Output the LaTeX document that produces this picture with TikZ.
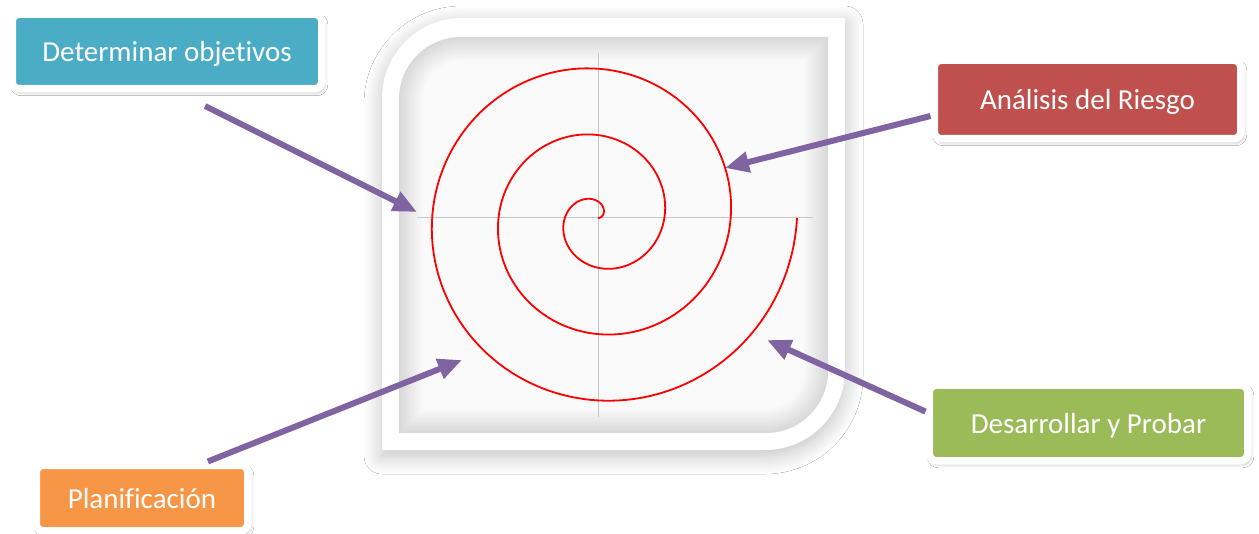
\documentclass[tikz,border=0pt]{standalone}
\usepackage{fontspec}
\setmainfont{Carlito}[Ligatures=NoCommon, Contextuals=NoAlternate]
\usepackage{tikz}
\usetikzlibrary{calc,arrows.meta,shadows.blur,positioning}
\definecolor{azul}{HTML}{4BACC6}
\definecolor{rojo}{HTML}{C0504D}
\definecolor{verde}{HTML}{9BBB59}
\definecolor{naranja}{HTML}{F79646}
\definecolor{morado}{HTML}{8064A2}
\tikzset{
  caja/.style    = {draw=white, line width=3.75pt, rounded corners=3.5pt, text=white,
                    font=\fontsize{14.5}{17}\selectfont, inner sep=0pt, text depth=0pt,
                    blur shadow={shadow xshift=1pt, shadow yshift=-1.5pt,
                                 shadow blur radius=2pt, shadow opacity=35}},
  flecha/.style  = {-{Triangle[length=12pt,width=10pt]}, line width=3pt, morado},
  eje/.style     = {black!22, line width=0.5pt},
  espiral/.style = {red, line width=0.9pt},
}
% cuadro con esquinas redondeadas arriba-izquierda y abajo-derecha
\newcommand\hoja[5]{({#1},{#2+(#5)}) .. controls ({#1},{#2+0.448*(#5)}) and ({#1+0.448*(#5)},{#2}) .. ({#1+(#5)},{#2})
  -- ({#3},{#2}) -- ({#3},{#4-(#5)}) .. controls ({#3},{#4-0.448*(#5)}) and ({#3-0.448*(#5)},{#4}) .. ({#3-(#5)},{#4})
  -- ({#1},{#4}) -- cycle}

\begin{document}
\begin{tikzpicture}[x=0.5pt, y=-0.5pt]
  \useasboundingbox (0,0) rectangle (1259,534);
  \fill[white] (0,0) rectangle (1259,534);

  % marco
  \fill[white, blur shadow={shadow xshift=0pt, shadow yshift=-3pt, shadow blur steps=14,
        shadow blur radius=9pt, shadow opacity=25}] \hoja{382}{18}{845}{450}{80};
  \foreach \i in {0,...,12}{
    \pgfmathsetmacro\tono{15-1.1*\i}
    \fill[black!\tono] \hoja{399+2*\i}{37+2*\i}{828-2*\i}{433-2*\i}{62-2*\i};
  }
  \draw[eje] (417,218) -- (813,218);
  \draw[eje] (598,53) -- (598,417);
  \draw[espiral] plot[domain=0:1080, samples=400, variable=\t]
    ({598+0.1843*\t*cos(\t)}, {218-0.1843*\t*sin(\t)});

  \node[caja, fill=azul, minimum width=154.75pt, minimum height=37.25pt] (objetivos) at (167,51.5) {Determinar objetivos};
  \node[caja, fill=rojo, minimum width=153.25pt, minimum height=39.25pt] (riesgo) at (1087.5,99.5) {Análisis del Riesgo};
  \node[caja, fill=verde, minimum width=159.25pt, minimum height=37.75pt] (desarrollo) at (1088.5,423) {Desarrollar y Probar};
  \node[caja, fill=naranja, minimum width=105.75pt, minimum height=32.75pt] (planif) at (142,498) {Planificación};

  \coordinate (pObj) at (417,212);
  \coordinate (pRie) at (725,168);
  \coordinate (pDes) at (767,340);
  \coordinate (pPla) at (462,360);

  \draw[flecha] ($(objetivos.south)+(38,13.5)$) -- (pObj);
  \draw[flecha] (riesgo.186) -- (pRie);
  \draw[flecha] (desarrollo.176) -- (pDes);
  \draw[flecha] (planif.29) -- (pPla);
\end{tikzpicture}
\end{document}
